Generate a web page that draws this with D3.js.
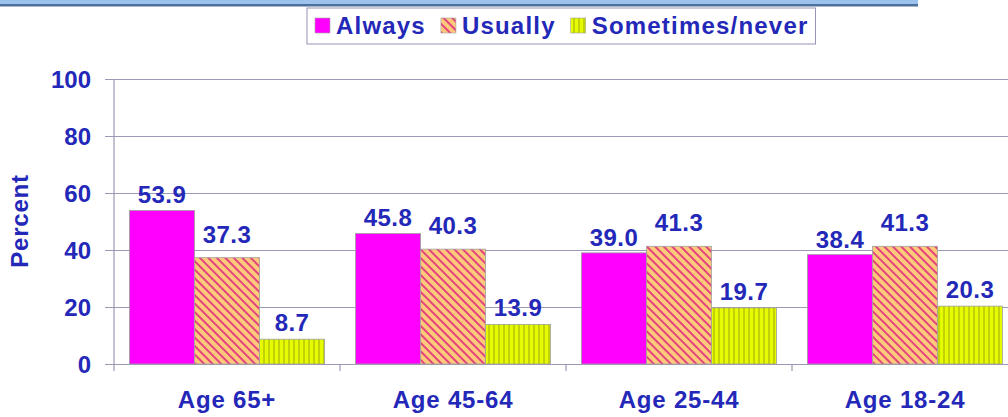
<!DOCTYPE html>
<html>
<head>
<meta charset="utf-8">
<script src="https://cdn.jsdelivr.net/npm/d3@7"></script>
<style>
  body { margin: 0; background: #fff; }
  svg { display: block; }
  text { font-family: "Liberation Sans", Arial, sans-serif; font-weight: bold; }
</style>
</head>
<body>
<div id="chart"></div>
<script>
// chart data
var categories = ["Age 65+", "Age 45-64", "Age 25-44", "Age 18-24"];
var seriesNames = ["Always", "Usually", "Sometimes/never"];
var always = [53.9, 45.8, 39.0, 38.4];
var usually = [37.3, 40.3, 41.3, 41.3];
var sometimes = [8.7, 13.9, 19.7, 20.3];
var yTicks = [0, 20, 40, 60, 80, 100];

var svgWidth = 1008, svgHeight = 417;
var textColor = "#2428b8";
var fontSize = "24px";

var svg = d3.select("#chart").append("svg")
    .attr("width", svgWidth)
    .attr("height", svgHeight);

// patterns for the hatched bars
var defs = svg.append("defs");

var hatch = defs.append("pattern")
    .attr("id", "hatchUsually")
    .attr("patternUnits", "userSpaceOnUse")
    .attr("width", 6).attr("height", 6)
    .attr("patternTransform", "rotate(-45)");
hatch.append("rect").attr("width", 6).attr("height", 6).attr("fill", "#ffc97c");
hatch.append("rect").attr("x", 0).attr("width", 2).attr("height", 6).attr("fill", "#e2457e");

var vstripe = defs.append("pattern")
    .attr("id", "stripeSometimes")
    .attr("patternUnits", "userSpaceOnUse")
    .attr("width", 5).attr("height", 5);
vstripe.append("rect").attr("width", 5).attr("height", 5).attr("fill", "#e6fb00");
vstripe.append("rect").attr("x", 3.5).attr("width", 1).attr("height", 5).attr("fill", "#9caa10");

var fills = ["#ff00ff", "url(#hatchUsually)", "url(#stripeSometimes)"];

// top banner
svg.append("rect").attr("x", 0).attr("y", 0).attr("width", 918).attr("height", 4)
    .attr("fill", "#9cc2ee");
svg.append("rect").attr("x", 0).attr("y", 4).attr("width", 918).attr("height", 2.5)
    .attr("fill", "#4f6f9c");

// scales
var xScale = d3.scaleBand()
    .domain(categories)
    .range([114, 1018])
    .padding(0);

var xInner = d3.scaleBand()
    .domain(seriesNames)
    .range([15.5, xScale.bandwidth() - 15.5])
    .padding(0);

var yScale = d3.scaleLinear()
    .domain([0, 100])
    .range([364, 79]);

// gridlines + y axis
var yAxis = d3.axisLeft(yScale)
    .tickValues(yTicks)
    .tickSize(-(svgWidth - 114))
    .tickPadding(23)
    .tickFormat(d3.format("d"));

var yG = svg.append("g")
    .attr("transform", "translate(114,0)")
    .call(yAxis);
yG.select(".domain").remove();
yG.selectAll(".tick line")
    .attr("x1", -9)
    .attr("stroke", "#9a9ab8")
    .attr("stroke-width", 1.2);
yG.selectAll(".tick text")
    .attr("fill", textColor)
    .style("font-size", fontSize)
    .attr("dy", "0.36em");

// y axis line
svg.append("line")
    .attr("x1", 114).attr("x2", 114)
    .attr("y1", yScale(100)).attr("y2", yScale(0))
    .attr("stroke", "#9a9ab8").attr("stroke-width", 1.2);

// x axis with category separators
var xAxis = d3.axisBottom(xScale).tickSize(0).tickPadding(27);
var xG = svg.append("g")
    .attr("transform", "translate(0," + yScale(0) + ")")
    .call(xAxis);
xG.select(".domain").remove();
xG.selectAll(".tick text")
    .attr("fill", textColor)
    .style("font-size", fontSize)
    .style("letter-spacing", "0.8px");

svg.selectAll(".sep")
    .data(categories)
    .enter()
    .append("line")
    .attr("class", "sep")
    .attr("x1", d => xScale(d)).attr("x2", d => xScale(d))
    .attr("y1", yScale(0)).attr("y2", yScale(0) + 7)
    .attr("stroke", "#9a9ab8").attr("stroke-width", 1.2);

// bars
var seriesValues = [always, usually, sometimes];
var barData = [];
categories.forEach(function(c, i) {
    seriesNames.forEach(function(s, j) {
        barData.push({ cat: c, series: s, idx: j, value: seriesValues[j][i] });
    });
});

svg.selectAll(".bar")
    .data(barData)
    .enter()
    .append("rect")
    .attr("class", "bar")
    .attr("x", d => xScale(d.cat) + xInner(d.series))
    .attr("y", d => yScale(d.value))
    .attr("width", xInner.bandwidth())
    .attr("height", d => yScale(0) - yScale(d.value))
    .attr("fill", d => fills[d.idx])
    .attr("stroke", "#a0a0a0")
    .attr("stroke-width", 0.8);

// value labels
var labelOffset = [7, 15, 8];
svg.selectAll(".val")
    .data(barData)
    .enter()
    .append("text")
    .attr("class", "val")
    .attr("x", d => xScale(d.cat) + xInner(d.series) + xInner.bandwidth() / 2)
    .attr("y", d => yScale(d.value) - labelOffset[d.idx])
    .attr("text-anchor", "middle")
    .attr("fill", textColor)
    .style("font-size", fontSize)
    .style("letter-spacing", "0.4px")
    .text(d => d.value.toFixed(1));

// y label
svg.append("text")
    .attr("transform", "translate(28,221) rotate(-90)")
    .attr("text-anchor", "middle")
    .attr("fill", textColor)
    .style("font-size", fontSize)
    .style("letter-spacing", "0.8px")
    .text("Percent");

// legend
var legend = svg.append("g");
var legendBox = legend.append("rect")
    .attr("y", 8).attr("height", 36)
    .attr("fill", "#fff")
    .attr("stroke", "#9494b4").attr("stroke-width", 1);

var lx = 315;
seriesNames.forEach(function(s, j) {
    legend.append("rect")
        .attr("x", lx).attr("y", 18)
        .attr("width", 15).attr("height", 15)
        .attr("fill", fills[j])
        .attr("stroke", "#a0a0a0").attr("stroke-width", 0.6);
    var t = legend.append("text")
        .attr("x", lx + 21).attr("y", 34)
        .attr("fill", textColor)
        .style("font-size", fontSize)
        .style("letter-spacing", "1.2px")
        .text(s);
    lx += 21 + t.node().getComputedTextLength() + 15;
});
legendBox.attr("x", 307).attr("width", lx - 15 + 7 - 307);
</script>
</body>
</html>
